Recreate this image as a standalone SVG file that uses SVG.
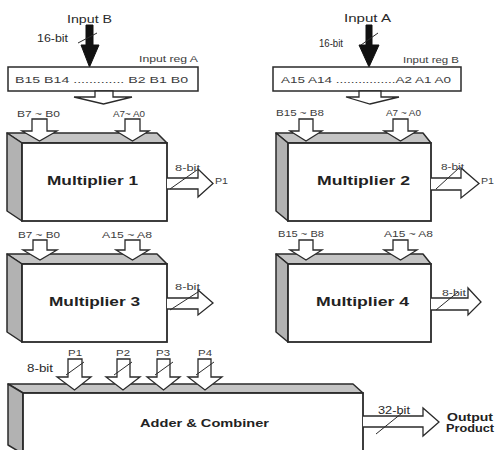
<svg xmlns="http://www.w3.org/2000/svg" width="496" height="450" viewBox="0 0 496 450">
<defs>
<style>
.top{fill:#c4c4c4;stroke:#2a2a2a;stroke-width:1.5;stroke-linejoin:round}
.side{fill:#b2b2b2;stroke:#2a2a2a;stroke-width:1.5;stroke-linejoin:round}
.front{fill:#fff;stroke:#2a2a2a;stroke-width:1.8}
.reg{fill:#fff;stroke:#2a2a2a;stroke-width:1.5}
.ha{fill:#fff;stroke:#2a2a2a;stroke-width:1.3;stroke-linejoin:miter}
.ba{fill:#111;stroke:#111;stroke-width:1}
.sl{stroke:#2a2a2a;stroke-width:1;fill:none}
text{font-family:"Liberation Sans",Arial,sans-serif;fill:#222}
.s{font-size:9px;fill:#3c3c3c}
.m{font-size:10.5px;fill:#2a2a2a}
.b{font-size:12.5px;font-weight:bold}
.bb{font-size:11px;font-weight:bold}
</style>
</defs>

<g id="regA">
<path class="ba" d="M86,25 H93 V45 H99 L89.5,67 L81,45 H86 Z"/>
<line class="sl" x1="78" y1="43" x2="97" y2="33"/>
<text class="m" x="67" y="23" textLength="45" lengthAdjust="spacingAndGlyphs">Input B</text>
<text class="m" x="37" y="41.5" textLength="31" lengthAdjust="spacingAndGlyphs">16-bit</text>
<text class="s" x="139" y="62" textLength="59" lengthAdjust="spacingAndGlyphs">Input reg A</text>
<rect class="reg" x="8" y="67" width="190" height="24"/>
<text class="s" x="15" y="82.5" textLength="173" lengthAdjust="spacingAndGlyphs">B15  B14  .............  B2  B1  B0</text>
</g>

<g id="regB">
<path class="ba" d="M366,25 H372 V45 H379 L369,67 L359,45 H366 Z"/>
<line class="sl" x1="361" y1="45" x2="378" y2="33"/>
<text class="m" x="344" y="22" textLength="47" lengthAdjust="spacingAndGlyphs">Input A</text>
<text class="m" x="319" y="46.5" textLength="24" lengthAdjust="spacingAndGlyphs">16-bit</text>
<text class="s" x="403" y="63" textLength="56" lengthAdjust="spacingAndGlyphs">Input reg B</text>
<rect class="reg" x="273" y="67" width="188" height="24"/>
<text class="s" x="281" y="82.5" textLength="170" lengthAdjust="spacingAndGlyphs">A15  A14  ................A2  A1  A0</text>
</g>

<g id="mult1">
<polygon class="top" points="7,133 157,133 167,143 22,143"/>
<polygon class="side" points="7,133 22,143 22,221 7,211"/>
<rect class="front" x="22" y="143" width="145" height="78"/>
<text class="b" x="47" y="184.5" textLength="91" lengthAdjust="spacingAndGlyphs">Multiplier 1</text>
</g>

<g id="mult2">
<polygon class="top" points="276,133 423,133 431,143 288,143"/>
<polygon class="side" points="276,133 288,143 288,221 276,211"/>
<rect class="front" x="288" y="143" width="143" height="78"/>
<text class="b" x="317" y="184.5" textLength="93" lengthAdjust="spacingAndGlyphs">Multiplier 2</text>
</g>

<g id="mult3">
<polygon class="top" points="7,254 157,254 167,264 22,264"/>
<polygon class="side" points="7,254 22,264 22,342 7,332"/>
<rect class="front" x="22" y="264" width="145" height="78"/>
<text class="b" x="49" y="305.5" textLength="91" lengthAdjust="spacingAndGlyphs">Multiplier 3</text>
</g>

<g id="mult4">
<polygon class="top" points="276,254 423,254 431,264 288,264"/>
<polygon class="side" points="276,254 288,264 288,342 276,332"/>
<rect class="front" x="288" y="264" width="143" height="78"/>
<text class="b" x="316" y="305.5" textLength="93" lengthAdjust="spacingAndGlyphs">Multiplier 4</text>
</g>

<g id="adder">
<polygon class="top" points="8,384 353,384 363,393 23,393"/>
<polygon class="side" points="8,384 23,393 23,454 8,445"/>
<rect class="front" x="23" y="393" width="340" height="70"/>
<text class="bb" x="140" y="427" textLength="129" lengthAdjust="spacingAndGlyphs">Adder &amp; Combiner</text>
<text class="bb" x="447" y="421" textLength="46" lengthAdjust="spacingAndGlyphs">Output</text>
<text class="bb" x="446" y="432" textLength="48" lengthAdjust="spacingAndGlyphs">Product</text>
</g>

<g id="connectors">
<!-- register outputs -->
<path class="ha" d="M95,91 H113 V97 H132 L103.5,104 L74,97 H95 Z"/>
<path class="ha" d="M359,91 H381 V97 H399 L370,104 L346,97 H359 Z"/>

<!-- multiplier 1 inputs -->
<text class="s" x="17" y="117" textLength="43" lengthAdjust="spacingAndGlyphs">B7 ~ B0</text>
<text class="s" x="113" y="117" textLength="32" lengthAdjust="spacingAndGlyphs">A7~ A0</text>
<path class="ha" d="M32,119 H47 V131 H57 L39.5,141 L22,131 H32 Z"/>
<path class="ha" d="M125,119 H140 V131 H149 L132.5,141 L116,131 H125 Z"/>

<!-- multiplier 2 inputs -->
<text class="s" x="276" y="116" textLength="48" lengthAdjust="spacingAndGlyphs">B15 ~ B8</text>
<text class="s" x="386" y="116" textLength="35" lengthAdjust="spacingAndGlyphs">A7 ~ A0</text>
<path class="ha" d="M299,119 H313 V131 H322 L306,141 L290,131 H299 Z"/>
<path class="ha" d="M393,119 H408 V131 H417 L400.5,141 L384,131 H393 Z"/>

<!-- multiplier 3 inputs -->
<text class="s" x="18" y="238" textLength="42" lengthAdjust="spacingAndGlyphs">B7 ~ B0</text>
<text class="s" x="102" y="238" textLength="50" lengthAdjust="spacingAndGlyphs">A15 ~ A8</text>
<path class="ha" d="M33,240 H47 V250 H57 L40,260 L23,250 H33 Z"/>
<path class="ha" d="M125,240 H140 V250 H149 L132.5,260 L116,250 H125 Z"/>

<!-- multiplier 4 inputs -->
<text class="s" x="278" y="236.5" textLength="46" lengthAdjust="spacingAndGlyphs">B15 ~ B8</text>
<text class="s" x="384" y="236.5" textLength="49" lengthAdjust="spacingAndGlyphs">A15 ~ A8</text>
<path class="ha" d="M299,240 H313 V250 H322 L306,260 L290,250 H299 Z"/>
<path class="ha" d="M393,240 H408 V250 H417 L400.5,260 L384,250 H393 Z"/>

<!-- multiplier outputs -->
<path class="ha" d="M167,178 H198 V169 L213,183.5 L198,197 V189 H167"/>
<line class="sl" x1="170" y1="189" x2="197" y2="170"/>
<text class="s" x="175" y="171" textLength="25" lengthAdjust="spacingAndGlyphs">8-bit</text>
<text class="s" x="215" y="184" textLength="13" lengthAdjust="spacingAndGlyphs">P1</text>

<path class="ha" d="M431,178 H461 V168 L479,183.5 L461,198 V190 H431"/>
<line class="sl" x1="436" y1="189" x2="459" y2="168"/>
<text class="s" x="441" y="170" textLength="23" lengthAdjust="spacingAndGlyphs">8-bit</text>
<text class="s" x="481" y="184" textLength="13" lengthAdjust="spacingAndGlyphs">P1</text>

<path class="ha" d="M167,298 H198 V290 L213,303 L198,315 V309 H167"/>
<line class="sl" x1="170" y1="310" x2="198" y2="292"/>
<text class="s" x="175" y="290" textLength="25" lengthAdjust="spacingAndGlyphs">8-bit</text>

<path class="ha" d="M431,298 H468 V288 L481,302 L468,315 V310 H431"/>
<line class="sl" x1="436" y1="310" x2="458" y2="292"/>
<text class="s" x="442" y="296" textLength="24" lengthAdjust="spacingAndGlyphs">8-bit</text>

<!-- adder inputs -->
<text class="m" x="27" y="371.5" textLength="26" lengthAdjust="spacingAndGlyphs">8-bit</text>
<text class="s" x="68" y="356" textLength="14" lengthAdjust="spacingAndGlyphs">P1</text>
<text class="s" x="116" y="356" textLength="14" lengthAdjust="spacingAndGlyphs">P2</text>
<text class="s" x="156" y="356" textLength="14" lengthAdjust="spacingAndGlyphs">P3</text>
<text class="s" x="198" y="356" textLength="14" lengthAdjust="spacingAndGlyphs">P4</text>
<path class="ha" d="M68,359 H82 V377 H91 L74.5,390 L57,377 H68 Z"/>
<line class="sl" x1="66" y1="375" x2="84" y2="362"/>
<path class="ha" d="M117,359 H130 V377 H140 L123,390 L106,377 H117 Z"/>
<line class="sl" x1="114" y1="375" x2="132" y2="362"/>
<path class="ha" d="M157,359 H170 V377 H180 L163.5,390 L147,377 H157 Z"/>
<line class="sl" x1="155" y1="375" x2="173" y2="362"/>
<path class="ha" d="M198,359 H211 V377 H222 L205,390 L188,377 H198 Z"/>
<line class="sl" x1="196" y1="375" x2="214" y2="362"/>

<!-- adder output -->
<path class="ha" d="M363,416 H423 V408 L439,422 L423,436 V427 H363"/>
<line class="sl" x1="376" y1="434" x2="402" y2="413"/>
<text class="m" x="378" y="413.5" textLength="32" lengthAdjust="spacingAndGlyphs">32-bit</text>
</g>
</svg>
